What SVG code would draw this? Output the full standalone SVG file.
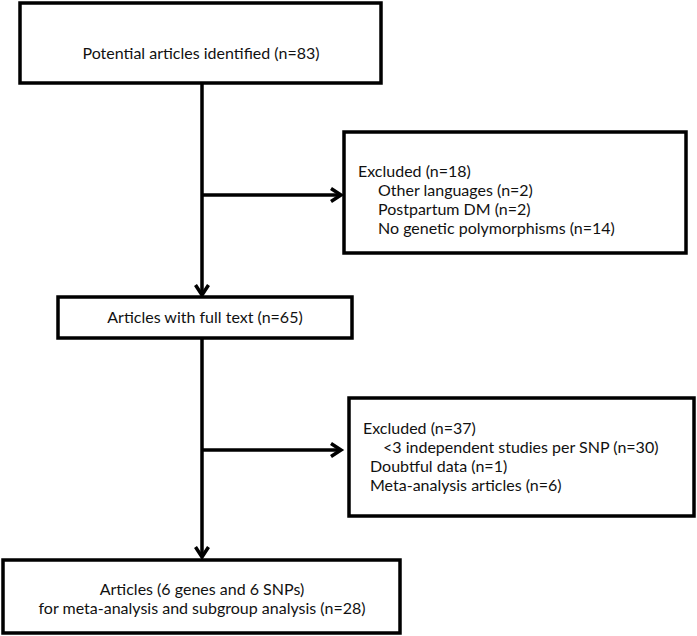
<svg xmlns="http://www.w3.org/2000/svg" width="697" height="636" viewBox="0 0 697 636">
<style>
.box{fill:#fff;stroke:#000;stroke-width:3.5}
.t{font-family:Lato,"Liberation Sans",sans-serif;font-size:16px;fill:#111}
.c{text-anchor:middle}
.ln{fill:none;stroke:#000;stroke-width:3.5}
</style>
<defs>
<marker id="ah" markerUnits="userSpaceOnUse" markerWidth="20" markerHeight="20" viewBox="-12 -10 14 20" refX="0" refY="0" orient="auto">
<path d="M-10,-6.5 L0,0 L-10,6.5" fill="none" stroke="#000" stroke-width="3.5"/>
</marker>
</defs>
<rect width="697" height="636" fill="#fff"/>
<g id="connectors">
<line class="ln" x1="202" y1="83" x2="202" y2="295" marker-end="url(#ah)"/>
<line class="ln" x1="202" y1="195" x2="341" y2="195" marker-end="url(#ah)"/>
<line class="ln" x1="202" y1="338" x2="202" y2="557" marker-end="url(#ah)"/>
<line class="ln" x1="202" y1="450" x2="341" y2="450" marker-end="url(#ah)"/>
</g>
<g id="n1">
<rect class="box" x="20" y="3" width="361" height="80"/>
<text class="t c" x="201" y="59">Potential articles identified (n=83)</text>
</g>
<g id="n2">
<rect class="box" x="344" y="132" width="342" height="121"/>
<text class="t" x="358" y="177">Excluded (n=18)</text>
<text class="t" x="378" y="196">Other languages (n=2)</text>
<text class="t" x="378" y="215">Postpartum DM (n=2)</text>
<text class="t" x="378" y="234">No genetic polymorphisms (n=14)</text>
</g>
<g id="n3">
<rect class="box" x="58" y="297" width="294" height="41"/>
<text class="t c" x="205" y="323">Articles with full text (n=65)</text>
</g>
<g id="n4">
<rect class="box" x="349" y="398" width="345" height="118"/>
<text class="t" x="363" y="434">Excluded (n=37)</text>
<text class="t" x="383" y="453">&lt;3 independent studies per SNP (n=30)</text>
<text class="t" x="370" y="472">Doubtful data (n=1)</text>
<text class="t" x="370" y="491">Meta-analysis articles (n=6)</text>
</g>
<g id="n5">
<rect class="box" x="3" y="560" width="397" height="73"/>
<text class="t c" x="202" y="595">Articles (6 genes and 6 SNPs)</text>
<text class="t c" x="202" y="614">for meta-analysis and subgroup analysis (n=28)</text>
</g>
</svg>
